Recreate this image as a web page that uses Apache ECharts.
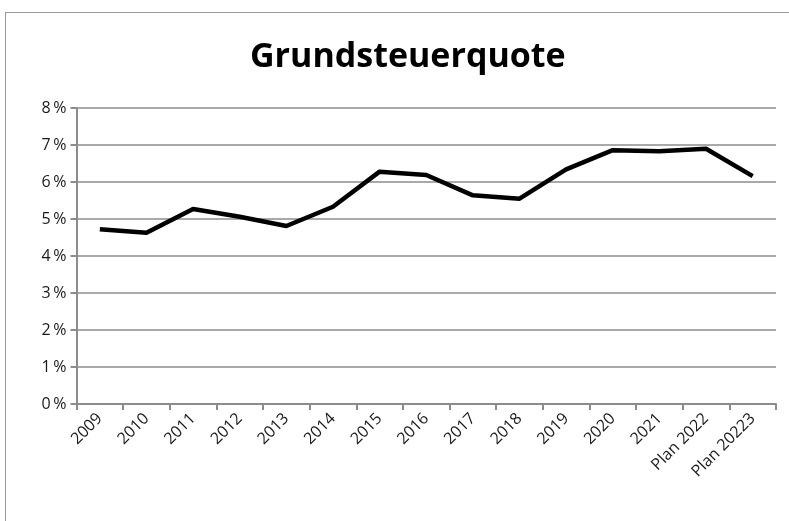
<!DOCTYPE html>
<html>
<head>
<meta charset="utf-8">
<script src="https://cdn.jsdelivr.net/npm/echarts@6/dist/echarts.min.js"></script>
<style>
  html, body { margin: 0; padding: 0; background: #fff; overflow: hidden; }
  #frame {
    position: absolute; left: 5px; top: 12px;
    width: 820px; height: 540px;
    border: 1.5px solid #9a9a9a;
  }
  #main { position: absolute; left: 0; top: 0; width: 789px; height: 521px; }
</style>
</head>
<body>
<div id="frame"></div>
<div id="main"></div>
<script>
  // Kategorien und Werte (in %)
  var years = ['2009', '2010', '2011', '2012', '2013', '2014', '2015', '2016',
    '2017', '2018', '2019', '2020', '2021', 'Plan 2022', 'Plan 20223']
  var quote = [4.72, 4.63, 5.27, 5.06, 4.81, 5.33, 6.28, 6.19,
    5.64, 5.55, 6.34, 6.86, 6.83, 6.90, 6.16]
  var yTicks = [0, 1, 2, 3, 4, 5, 6, 7, 8]

  var chart = echarts.init(document.getElementById('main'))
  var option = {
    animation: false,
    title: {
      text: 'Grundsteuerquote',
      left: 245,
      top: 35,
      textStyle: {
        fontFamily: 'Open Sans',
        fontWeight: 'bold',
        fontSize: 34,
        color: '#000',
      },
    },
    grid: { left: 76.5, right: 13, top: 108, bottom: 117 },
    xAxis: {
      type: 'category',
      data: years,
      boundaryGap: true,
      axisLine: { lineStyle: { color: '#8c8c8c', width: 2 } },
      axisTick: { show: true, length: 6, lineStyle: { color: '#8c8c8c', width: 2 } },
      axisLabel: {
        interval: 0,
        rotate: 45,
        fontFamily: 'Open Sans',
        fontSize: 16,
        color: '#1a1a1a',
        margin: 12,
      },
    },
    yAxis: {
      type: 'value',
      min: yTicks[0],
      max: yTicks[yTicks.length - 1],
      interval: 1,
      axisLine: { show: true, lineStyle: { color: '#8c8c8c', width: 2 } },
      axisTick: { show: true, length: 6, lineStyle: { color: '#8c8c8c', width: 2 } },
      splitLine: { lineStyle: { color: '#8c8c8c', width: 1.5 } },
      axisLabel: {
        fontFamily: 'Open Sans',
        fontSize: 16,
        color: '#1a1a1a',
        margin: 10,
        formatter: function (v) { return v + '\u2009%' },
      },
    },
    series: [
      {
        name: 'Grundsteuerquote',
        type: 'line',
        data: quote,
        showSymbol: false,
        smooth: false,
        lineStyle: { color: '#000', width: 4.5, join: 'round' },
      },
    ],
  }
  chart.setOption(option)
</script>
</body>
</html>
